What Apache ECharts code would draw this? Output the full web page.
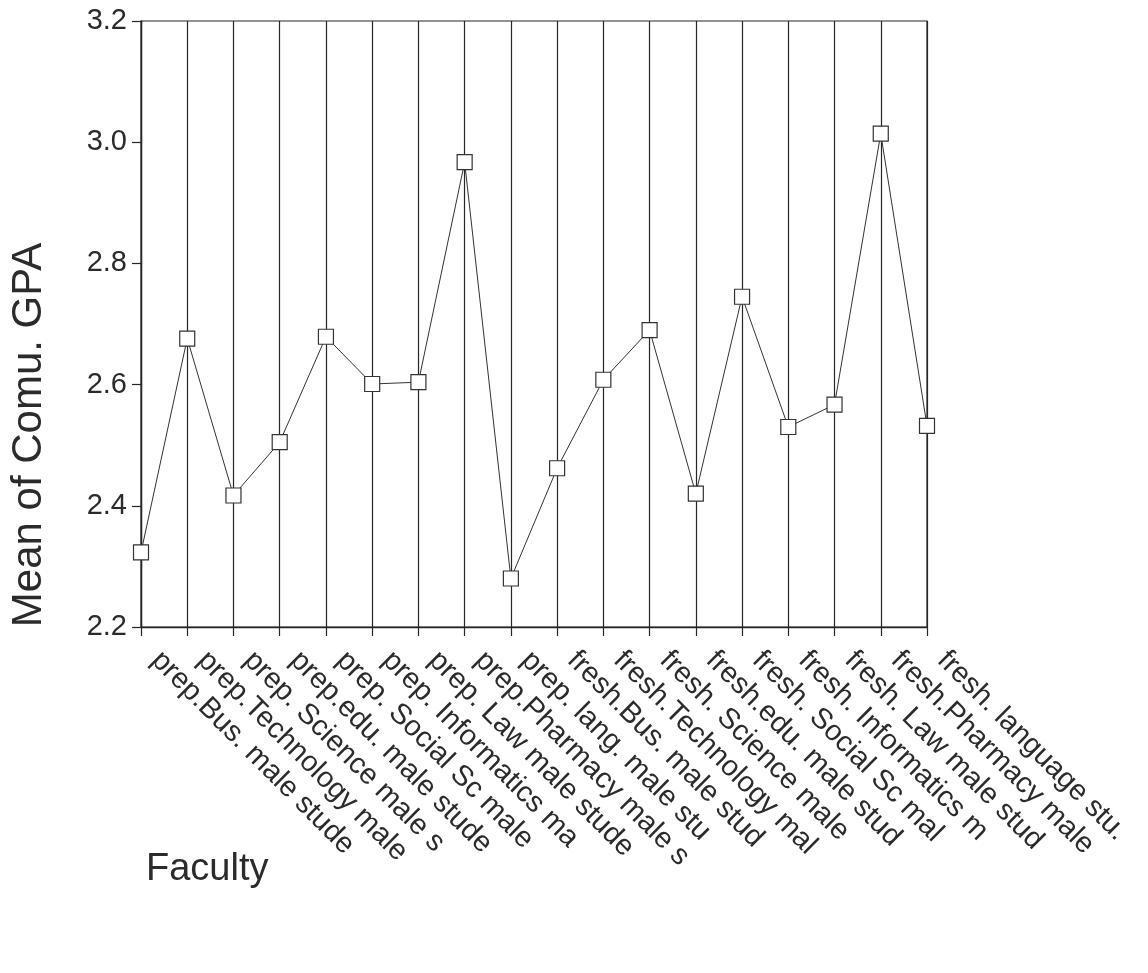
<!DOCTYPE html>
<html>
<head>
<meta charset="utf-8">
<script src="https://cdn.jsdelivr.net/npm/echarts@6/dist/echarts.min.js"></script>
<style>
  html, body { margin: 0; padding: 0; background: #fff; }
  #chart { width: 1148px; height: 973px; }
</style>
</head>
<body>
<div id="chart"></div>
<script>
// Faculty groups (labels truncated to 20 characters as in the source output)
const faculties = [
  'prep.Bus. male stude',
  'prep.Technology male',
  'prep. Science male s',
  'prep.edu. male stude',
  'prep. Social Sc male',
  'prep. Informatics ma',
  'prep. Law male stude',
  'prep.Pharmacy male s',
  'prep. lang. male stu',
  'fresh.Bus. male stud',
  'fresh.Technology mal',
  'fresh. Science male ',
  'fresh.edu. male stud',
  'fresh. Social Sc mal',
  'fresh. Informatics m',
  'fresh. Law male stud',
  'fresh.Pharmacy male ',
  'fresh. language stu.'
];

// Mean cumulative GPA per faculty group
const meanGPA = [
  2.323, 2.676, 2.417, 2.505, 2.679, 2.601, 2.604, 2.967, 2.280,
  2.462, 2.608, 2.690, 2.420, 2.745, 2.530, 2.567, 3.014, 2.532
];

// Value axis ticks
const yTicks = [2.2, 2.4, 2.6, 2.8, 3.0, 3.2];

const ink = '#262626';
const font = '"Liberation Sans", Arial, Helvetica, sans-serif';

const chart = echarts.init(document.getElementById('chart'), null, { renderer: 'canvas' });

chart.setOption({
  animation: false,
  backgroundColor: '#ffffff',
  grid: {
    left: 141, right: 221, top: 21, bottom: 346,
    show: true, borderColor: ink, borderWidth: 1.2, backgroundColor: 'transparent'
  },
  xAxis: {
    type: 'category',
    data: faculties,
    boundaryGap: false,
    axisLine: { lineStyle: { color: ink, width: 1.4 } },
    axisTick: { show: true, length: 9, lineStyle: { color: ink, width: 1.2 }, alignWithLabel: true },
    splitLine: { show: true, lineStyle: { color: ink, width: 1.2 } },
    axisLabel: {
      interval: 0,
      rotate: -45,
      margin: 14,
      padding: [0, 0, 0, 21],
      color: '#2b2b2b',
      fontFamily: font,
      fontSize: 29
    }
  },
  yAxis: {
    type: 'value',
    min: yTicks[0],
    max: yTicks[yTicks.length - 1],
    interval: 0.2,
    axisLine: { show: true, lineStyle: { color: ink, width: 1.4 } },
    axisTick: { show: true, length: 9, lineStyle: { color: ink, width: 1.2 } },
    splitLine: { show: false },
    axisLabel: {
      margin: 14,
      color: '#2b2b2b',
      fontFamily: font,
      fontSize: 29,
      formatter: v => v.toFixed(1)
    }
  },
  graphic: [
    {
      type: 'text',
      x: 29, y: 435,
      rotation: Math.PI / 2,
      style: {
        text: 'Mean of Comu. GPA',
        fill: '#2b2b2b',
        font: '42px ' + font,
        align: 'center',
        verticalAlign: 'middle'
      }
    },
    {
      type: 'text',
      x: 146, y: 870,
      style: {
        text: 'Faculty',
        fill: '#2b2b2b',
        font: '38px ' + font,
        align: 'left',
        verticalAlign: 'middle'
      }
    }
  ],
  series: [{
    type: 'line',
    data: meanGPA,
    symbol: 'rect',
    symbolSize: 15,
    showAllSymbol: true,
    lineStyle: { color: '#333', width: 1 },
    itemStyle: { color: '#fff', borderColor: '#333', borderWidth: 1.2 },
    z: 5
  }]
});
</script>
</body>
</html>
